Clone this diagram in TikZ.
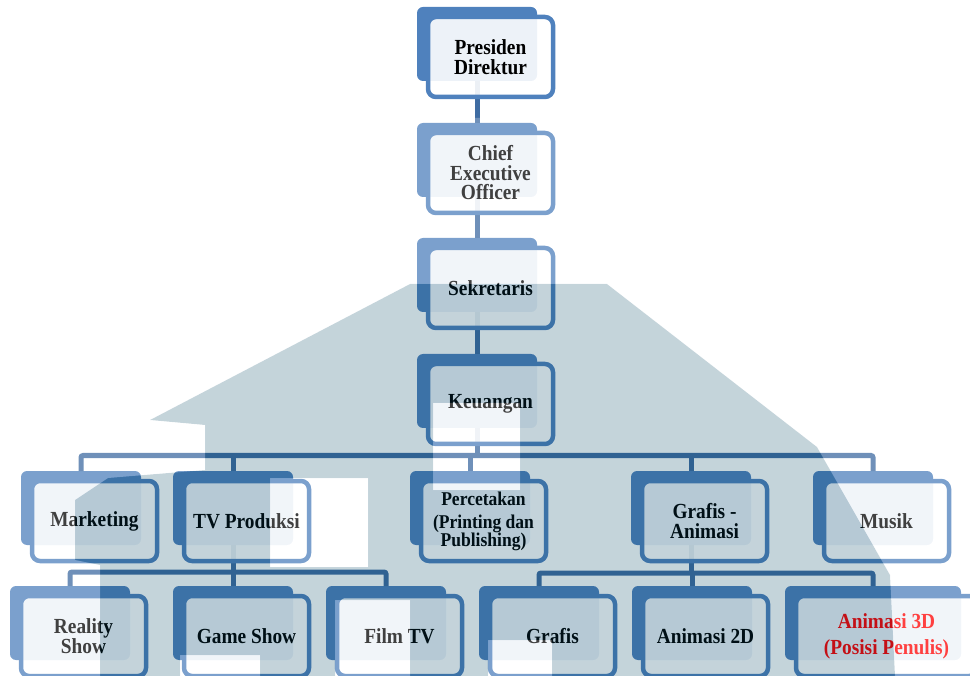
\documentclass[tikz,border=0pt]{standalone}
\usepackage{fontspec}
\setmainfont{Liberation Serif}[FakeStretch=0.9]
\usetikzlibrary{calc}
\definecolor{acc}{RGB}{79,129,189}
\definecolor{lnk}{RGB}{63,108,162}
\definecolor{wm}{RGB}{0,68,97}
\tikzset{
  backbox/.style={anchor=north west, fill=acc, rounded corners=6pt, minimum width=120pt, minimum height=74pt, inner sep=0pt, outer sep=0pt},
  frontbox/.style={anchor=center, draw=acc, line width=4.5pt, fill=white, fill opacity=0.9, text opacity=1, rounded corners=8pt, minimum width=125pt, minimum height=80pt, inner sep=0pt, align=center, text=black, font=\bfseries\fontsize{21.5}{19.5}\selectfont},
  link/.style={draw=lnk, line width=5pt},
}
\newcommand\domepath{(150,420) -- (410,284) -- (607,284) -- (817,447) -- (890,575) -- (895,676) -- (100,676) -- (100,565) -- (75,560) -- (75,500) -- (108,478) -- (205,470) -- (205,425) -- cycle}
\newcommand\holepath{(433,403) rectangle (520,490) (270,478) rectangle (368,567) (180,655) rectangle (260,676) (335,600) rectangle (410,676) (488,640) rectangle (552,676)}
\begin{document}
\begin{tikzpicture}[x=1pt,y=-1pt]
\useasboundingbox (0,0) rectangle (970,676);
% back plates
\node[backbox] (pd) at (417,7) {};
\node[backbox] (ceo) at (417,123) {};
\node[backbox] (sk) at (417,238) {};
\node[backbox] (ku) at (417,354) {};
\node[backbox] (mk) at (21,471) {};
\node[backbox] (tv) at (173,471) {};
\node[backbox] (pc) at (410,471) {};
\node[backbox] (ga) at (631,471) {};
\node[backbox] (mu) at (813,471) {};
\node[backbox] (rs) at (10,586) {};
\node[backbox] (gs) at (173,586) {};
\node[backbox] (ft) at (326,586) {};
\node[backbox] (gr) at (479,586) {};
\node[backbox] (a2) at (632,586) {};
\node[backbox, minimum width=176pt] (a3) at (785,586) {};
% connectors
\draw[link] (pd.south) -- (ceo.north);
\draw[link] (ceo.south) -- (sk.north);
\draw[link] (sk.south) -- (ku.north);
\coordinate (b1) at (477,455.5);
\draw[link] (ku.south) -- (b1);
\draw[link, rounded corners=2pt] (mk.north) -- (mk.north |- b1) -- (mu.north |- b1) -- (mu.north);
\draw[link] (tv.north) -- (tv.north |- b1);
\draw[link] (pc.north) -- (pc.north |- b1);
\draw[link] (ga.north) -- (ga.north |- b1);
\coordinate (b2) at (233,572);
\draw[link] (tv.south) -- (b2);
\draw[link, rounded corners=2pt] (rs.north) -- (rs.north |- b2) -- (ft.north |- b2) -- (ft.north);
\draw[link] (gs.north) -- (gs.north |- b2);
\coordinate (b3) at (691,573);
\draw[link] (ga.south) -- (b3);
\draw[link, rounded corners=2pt] (gr.north) -- (gr.north |- b3) -- (a3.north |- b3) -- (a3.north);
\draw[link] (a2.north) -- (a2.north |- b3);
% front frames with text
\node[frontbox] (pdF) at ($(pd.north west)+(73.5,50)$) {Presiden\\Direktur};
\node[frontbox] (ceoF) at ($(ceo.north west)+(73.5,50)$) {Chief\\Executive\\Officer};
\node[frontbox] (skF) at ($(sk.north west)+(73.5,50)$) {Sekretaris};
\node[frontbox] (kuF) at ($(ku.north west)+(73.5,50)$) {Keuangan};
\node[frontbox] (mkF) at ($(mk.north west)+(73.5,50)$) {Marketing};
\node[frontbox] (tvF) at ($(tv.north west)+(73.5,50)$) {TV Produksi};
\node[frontbox, font=\bfseries\fontsize{19.5}{18}\selectfont] (pcF) at ($(pc.north west)+(73.5,50)$) {Percetakan\\[5pt](Printing dan\\Publishing)};
\node[frontbox] (gaF) at ($(ga.north west)+(73.5,50)$) {Grafis -\\Animasi};
\node[frontbox] (muF) at ($(mu.north west)+(73.5,50)$) {Musik};
\node[frontbox] (rsF) at ($(rs.north west)+(73.5,50)$) {Reality\\Show};
\node[frontbox] (gsF) at ($(gs.north west)+(73.5,50)$) {Game Show};
\node[frontbox] (ftF) at ($(ft.north west)+(73.5,50)$) {Film TV};
\node[frontbox] (grF) at ($(gr.north west)+(73.5,50)$) {Grafis};
\node[frontbox] (a2F) at ($(a2.north west)+(73.5,50)$) {Animasi 2D};
\node[frontbox, minimum width=181pt, text=red] (a3F) at ($(a3.north west)+(101.5,50)$) {Animasi 3D\\[6.5pt](Posisi Penulis)};
% faint watermark
\fill[wm, fill opacity=0.23, even odd rule] \domepath \holepath;
\fill[white, fill opacity=0.25, even odd rule] (0,118) rectangle (970,676) \domepath \holepath;
\end{tikzpicture}
\end{document}
